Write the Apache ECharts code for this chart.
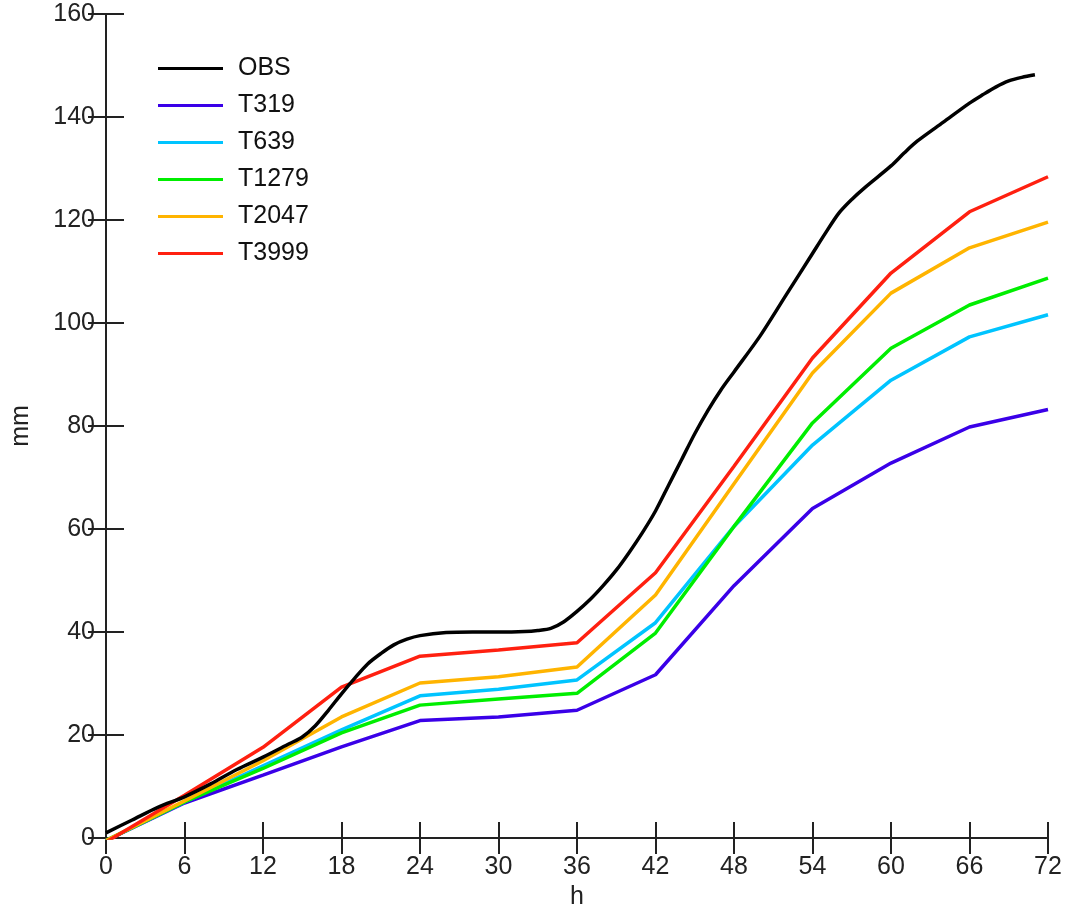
<!DOCTYPE html>
<html>
<head>
<meta charset="utf-8">
<script src="https://cdn.jsdelivr.net/npm/echarts@6/dist/echarts.min.js"></script>
<style>html,body{margin:0;padding:0;background:#fff}#c{width:1068px;height:905px}</style>
</head>
<body>
<div id="c"></div>
<script>
// Model output hours
const modelHours = [0, 6, 12, 18, 24, 30, 36, 42, 48, 54, 60, 66, 72];
const T319  = [-0.5, 6.8, 12.2, 17.7, 22.8, 23.5, 24.8, 31.7, 49.0, 64.0, 72.8, 79.8, 83.2];
const T639  = [-0.5, 7.0, 14.0, 21.0, 27.6, 28.9, 30.7, 41.8, 60.5, 76.3, 88.9, 97.3, 101.6];
const T1279 = [-0.5, 7.0, 13.5, 20.4, 25.8, 27.0, 28.1, 39.8, 60.5, 80.6, 95.1, 103.5, 108.7];
const T2047 = [-0.5, 7.2, 15.0, 23.5, 30.1, 31.3, 33.2, 47.2, 68.8, 90.3, 105.8, 114.6, 119.6];
const T3999 = [-0.8, 8.3, 17.6, 29.3, 35.3, 36.5, 37.9, 51.5, 72.2, 93.2, 109.7, 121.6, 128.4];

// Observations
const obsHours = [0, 2, 4, 6, 8, 10, 12, 14, 15, 16, 17, 18, 19, 20, 21, 22, 23, 24, 26, 28, 30, 32, 33, 34, 35, 36,
  37, 38, 39, 40, 41, 42, 43, 44, 45, 46, 47, 48, 50, 52, 54, 55, 56, 57, 58, 60, 61, 62, 64, 66, 67, 68, 69, 70, 71];
const OBS = [1.0, 3.5, 6.0, 8.0, 10.5, 13.3, 15.7, 18.3, 19.6, 21.8, 24.8, 28.0, 31.0, 33.8, 35.8, 37.5, 38.6, 39.3, 39.9, 40.0, 40.0, 40.1, 40.3, 40.7, 42.0, 44.0,
  46.3, 49.0, 52.0, 55.5, 59.3, 63.5, 68.5, 73.5, 78.5, 83.0, 87.0, 90.5, 97.5, 105.5, 113.5, 117.5, 121.3, 124.0, 126.3, 130.5, 133.0, 135.3, 139.0, 142.7, 144.3, 145.8, 147.0, 147.7, 148.2];

const seriesNames = ['OBS', 'T319', 'T639', 'T1279', 'T2047', 'T3999'];
const seriesColors = ['#000000', '#3a00e8', '#00c4ff', '#00ee00', '#ffb400', '#ff2010'];

const xTicks = { min: 0, max: 72, interval: 6 };
const yTicks = { min: 0, max: 160, interval: 20 };
const xName = 'h';
const yName = 'mm';

const zip = (xs, ys) => xs.map((x, i) => [x, ys[i]]);
const modelData = [T319, T639, T1279, T2047, T3999];

const font = "'Liberation Sans', Arial, Helvetica, sans-serif";
const axisCol = '#222';
const fs = 25;

const series = [];
modelData.forEach((d, i) => {
  series.push({
    name: seriesNames[i + 1], type: 'line', data: zip(modelHours, d),
    symbol: 'none', lineStyle: { width: 3.5, color: seriesColors[i + 1] },
    itemStyle: { color: seriesColors[i + 1] }, z: 2 + i
  });
});
series.push({
  name: 'OBS', type: 'line', data: zip(obsHours, OBS), smooth: 0.3,
  symbol: 'none', lineStyle: { width: 3.5, color: seriesColors[0] },
  itemStyle: { color: seriesColors[0] }, z: 10
});

const chart = echarts.init(document.getElementById('c'), null, { renderer: 'canvas' });
chart.setOption({
  animation: false,
  backgroundColor: '#fff',
  grid: { left: 106, right: 20, top: 14, bottom: 67, containLabel: false, outerBoundsMode: 'none' },
  legend: {
    data: seriesNames, orient: 'vertical', left: 153, top: 51,
    icon: 'rect', itemWidth: 65, itemHeight: 3, itemGap: 12,
    textStyle: { fontFamily: font, fontSize: fs, color: '#111', lineHeight: 24, padding: [0, 0, 0, 10] }
  },
  xAxis: [{
    type: 'value', min: xTicks.min, max: xTicks.max, interval: xTicks.interval,
    name: xName, nameLocation: 'middle', nameGap: 45,
    nameTextStyle: { fontFamily: font, fontSize: fs, color: axisCol },
    axisLine: { show: true, lineStyle: { color: axisCol, width: 2 } },
    axisTick: { show: true, inside: true, length: 16, lineStyle: { color: axisCol, width: 2 } },
    axisLabel: { fontFamily: font, fontSize: fs, color: axisCol, margin: 17 },
    splitLine: { show: false }
  }, {
    type: 'value', position: 'top', min: xTicks.min, max: xTicks.max, interval: xTicks.interval,
    axisLine: { show: true, lineStyle: { color: axisCol, width: 2 } },
    axisTick: { show: true, inside: true, length: 16, lineStyle: { color: axisCol, width: 2 } },
    axisLabel: { show: false }, splitLine: { show: false }
  }],
  yAxis: [{
    type: 'value', min: yTicks.min, max: yTicks.max, interval: yTicks.interval,
    name: yName, nameLocation: 'middle', nameGap: 72, nameRotate: 90,
    nameTextStyle: { fontFamily: font, fontSize: fs, color: axisCol },
    axisLine: { show: true, lineStyle: { color: axisCol, width: 2 } },
    axisTick: { show: true, inside: true, length: 18, lineStyle: { color: axisCol, width: 2 } },
    axisLabel: { fontFamily: font, fontSize: fs, color: axisCol, margin: 11 },
    splitLine: { show: false }
  }, {
    type: 'value', position: 'right', min: yTicks.min, max: yTicks.max, interval: yTicks.interval,
    axisLine: { show: true, lineStyle: { color: axisCol, width: 2 } },
    axisTick: { show: true, inside: true, length: 18, lineStyle: { color: axisCol, width: 2 } },
    axisLabel: { show: false }, splitLine: { show: false }
  }],
  series: series
});
</script>
</body>
</html>
